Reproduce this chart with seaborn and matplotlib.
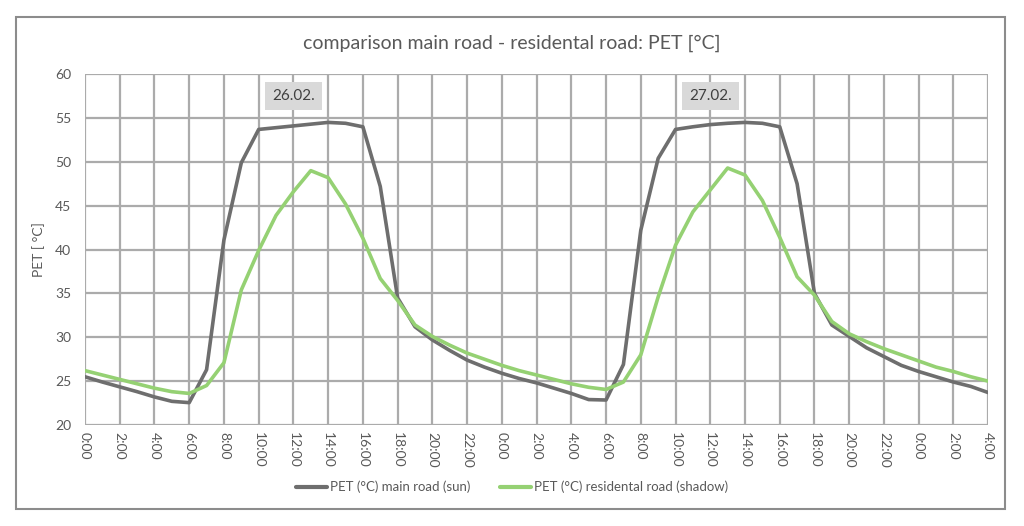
import pandas as pd
import seaborn as sns
import matplotlib.pyplot as plt
from matplotlib.patches import Rectangle

hours = list(range(53))

main_road = [25.5, 24.9, 24.35, 23.8, 23.2, 22.7, 22.55, 26.3, 41.1, 49.9,
             53.7, 53.9, 54.1, 54.3, 54.5, 54.4, 54.0, 47.2, 34.5, 31.2,
             29.7, 28.5, 27.4, 26.6, 25.9, 25.3, 24.8, 24.2, 23.6, 22.9,
             22.85, 26.9, 42.2, 50.4, 53.7, 54.0, 54.25, 54.4, 54.5, 54.4,
             54.0, 47.5, 35.0, 31.4, 30.1, 28.8, 27.8, 26.8, 26.1, 25.5,
             24.9, 24.4, 23.7]

residential_road = [26.2, 25.7, 25.2, 24.7, 24.2, 23.8, 23.6, 24.5, 27.1, 35.4,
                    39.9, 43.9, 46.6, 49.0, 48.2, 45.2, 41.3, 36.7, 34.2, 31.4,
                    30.1, 29.1, 28.2, 27.5, 26.8, 26.2, 25.7, 25.2, 24.7, 24.3,
                    24.05, 24.9, 28.0, 34.6, 40.5, 44.3, 46.8, 49.3, 48.5, 45.6,
                    41.4, 36.9, 34.8, 31.8, 30.4, 29.5, 28.7, 28.0, 27.3, 26.6,
                    26.1, 25.5, 25.0]

tick_hours = list(range(0, 53, 2))
tick_labels = ["0:00", "2:00", "4:00", "6:00", "8:00", "10:00", "12:00", "14:00",
               "16:00", "18:00", "20:00", "22:00", "0:00", "2:00", "4:00", "6:00",
               "8:00", "10:00", "12:00", "14:00", "16:00", "18:00", "20:00",
               "22:00", "0:00", "2:00", "4:00"]

day_labels = ["26.02.", "27.02."]
day_label_hours = [12, 36]

label_main = "PET (°C) main road (sun)"
label_res = "PET (°C) residental road (shadow)"

df = pd.DataFrame({
    "hour": hours * 2,
    "PET": main_road + residential_road,
    "series": [label_main] * len(hours) + [label_res] * len(hours),
})

sns.set_style("white")
plt.rcParams["font.family"] = ["Lato", "DejaVu Sans"]
txt = "#595959"

fig = plt.figure(figsize=(10.24, 5.26), dpi=100)
ax = fig.add_axes([0.083, 0.192, 0.882, 0.667])

sns.lineplot(data=df, x="hour", y="PET", hue="series",
             palette={label_main: "#6e6e6e", label_res: "#95d173"},
             linewidth=2.6, ax=ax, zorder=3)

ax.set_xlim(0, 52)
ax.set_ylim(20, 60)
ax.set_xticks(tick_hours)
ax.set_xticklabels(tick_labels, rotation=-90, color=txt, fontsize=10)
ax.set_yticks(range(20, 61, 5))
ax.tick_params(axis="y", colors=txt, labelsize=10, length=0, pad=10)
ax.tick_params(axis="x", length=0, pad=5)
ax.grid(True, color="#ababab", linewidth=1.6, zorder=0)
for s in ax.spines.values():
    s.set_visible(False)

ax.set_xlabel("")
ax.set_ylabel("PET [ °C]", color=txt, fontsize=10)
ax.yaxis.set_label_coords(-0.044, 0.5)

for lbl, h in zip(day_labels, day_label_hours):
    ax.text(h, 57.5, lbl, ha="center", va="center", fontsize=11, color="#404040",
            zorder=5,
            bbox=dict(boxstyle="square,pad=0.45", fc="#d9d9d9", ec="none"))

fig.text(0.5, 0.918, "comparison main road - residental road: PET [°C]",
         ha="center", va="center", fontsize=14, color=txt)

handles, labels = ax.get_legend_handles_labels()
leg = ax.legend(handles, labels, loc="center", bbox_to_anchor=(0.5, 0.074),
                bbox_transform=fig.transFigure, ncol=2, frameon=False,
                fontsize=9.5, labelcolor=txt, handlelength=2.35, handletextpad=0.2,
                columnspacing=2.3)
for line in leg.get_lines():
    line.set_linewidth(3)

fig.add_artist(Rectangle((0.0156, 0.032), 0.966, 0.936, transform=fig.transFigure,
                         fill=False, ec="#8c8c8c", lw=1.5))

fig.savefig("out.png", dpi=100, facecolor="white")
